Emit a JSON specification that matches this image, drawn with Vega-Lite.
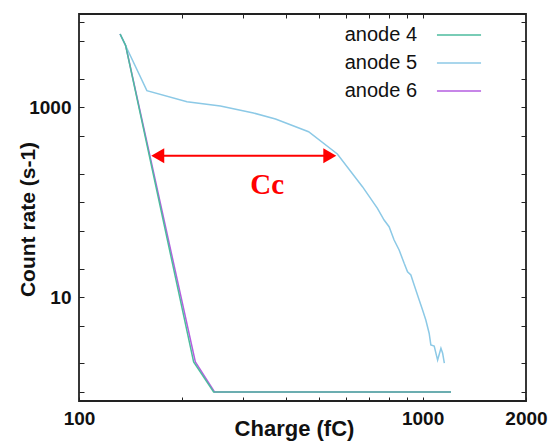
{
  "$schema": "https://vega.github.io/schema/vega-lite/v6.json",
  "width": 447,
  "height": 387,
  "autosize": {"type": "none"},
  "padding": {"left": 79, "top": 14, "right": 24, "bottom": 43},
  "background": "white",
  "config": {
    "font": "Liberation Sans",
    "view": {"stroke": "#222", "strokeWidth": 1.8},
    "axis": {
      "grid": false,
      "labelFont": "Liberation Sans",
      "labelFontSize": 19,
      "labelFontWeight": "bold",
      "labelColor": "#111",
      "labelFlush": false,
      "titleFont": "Liberation Sans",
      "titleFontWeight": "bold",
      "titleColor": "#111",
      "tickColor": "#222",
      "tickWidth": 1,
      "domain": false
    }
  },
  "datasets": {
    "curves": [
      {"series": "anode 6", "charge": 131.7, "rate": 5922},
      {"series": "anode 6", "charge": 136.7, "rate": 4479},
      {"series": "anode 6", "charge": 218.1, "rate": 2.07},
      {"series": "anode 6", "charge": 248.0, "rate": 1.0},
      {"series": "anode 6", "charge": 1210, "rate": 1.0},
      {"series": "anode 5", "charge": 131.7, "rate": 5922},
      {"series": "anode 5", "charge": 157.6, "rate": 1496},
      {"series": "anode 5", "charge": 206.2, "rate": 1146},
      {"series": "anode 5", "charge": 257.9, "rate": 1032},
      {"series": "anode 5", "charge": 321.9, "rate": 871},
      {"series": "anode 5", "charge": 373.2, "rate": 753},
      {"series": "anode 5", "charge": 465.8, "rate": 553},
      {"series": "anode 5", "charge": 564.9, "rate": 322},
      {"series": "anode 5", "charge": 668.3, "rate": 145.7},
      {"series": "anode 5", "charge": 739.0, "rate": 86.2},
      {"series": "anode 5", "charge": 772.7, "rate": 64.9},
      {"series": "anode 5", "charge": 799.0, "rate": 55.2},
      {"series": "anode 5", "charge": 826.3, "rate": 40.0},
      {"series": "anode 5", "charge": 854.6, "rate": 31.4},
      {"series": "anode 5", "charge": 883.8, "rate": 22.7},
      {"series": "anode 5", "charge": 904.1, "rate": 18.5},
      {"series": "anode 5", "charge": 924.5, "rate": 17.1},
      {"series": "anode 5", "charge": 945.2, "rate": 13.4},
      {"series": "anode 5", "charge": 977.5, "rate": 9.32},
      {"series": "anode 5", "charge": 1000, "rate": 7.31},
      {"series": "anode 5", "charge": 1022, "rate": 5.74},
      {"series": "anode 5", "charge": 1045, "rate": 4.16},
      {"series": "anode 5", "charge": 1057, "rate": 3.13},
      {"series": "anode 5", "charge": 1081, "rate": 3.05},
      {"series": "anode 5", "charge": 1106, "rate": 2.17},
      {"series": "anode 5", "charge": 1131, "rate": 2.89},
      {"series": "anode 5", "charge": 1144, "rate": 2.56},
      {"series": "anode 5", "charge": 1157, "rate": 2.01},
      {"series": "anode 4", "charge": 131.7, "rate": 5922},
      {"series": "anode 4", "charge": 136.7, "rate": 4479},
      {"series": "anode 4", "charge": 215.6, "rate": 2.07},
      {"series": "anode 4", "charge": 246.5, "rate": 1.0},
      {"series": "anode 4", "charge": 1210, "rate": 1.0}
    ],
    "arrow": [{"q1": 169.5, "q2": 537, "r": 309}],
    "heads": [
      {"q": 169.5, "r": 309, "dir": "left"},
      {"q": 537, "r": 309, "dir": "right"}
    ],
    "note": [{"q": 353, "r": 152, "text": "Cc"}]
  },
  "resolve": {"axis": {"x": "independent", "y": "independent"}},
  "layer": [
    {
      "data": {"name": "curves"},
      "mark": {"type": "line", "strokeWidth": 1.5},
      "encoding": {
        "x": {
          "field": "charge", "type": "quantitative",
          "scale": {"type": "log", "domain": [100, 2000]},
          "axis": {
            "orient": "bottom",
            "offset": -4,
            "values": [100, 200, 300, 400, 500, 600, 700, 800, 900, 1000, 2000],
            "labelExpr": "datum.value == 100 || datum.value == 1000 || datum.value == 2000 ? format(datum.value, 'd') : ''",
            "tickSize": 4,
            "labelPadding": 8,
            "title": "Charge (fC)",
            "titleFontSize": 22,
            "titleX": 215,
            "titleY": 38,
            "titleBaseline": "alphabetic",
            "titleAlign": "center"
          }
        },
        "y": {
          "field": "rate", "type": "quantitative",
          "scale": {"type": "log", "domain": [0.804, 9616]},
          "axis": {
            "orient": "left",
            "offset": -5,
            "values": [1, 2, 5, 10, 20, 50, 100, 200, 500, 1000, 2000, 5000, 8000],
            "labelExpr": "datum.value == 10 || datum.value == 1000 ? format(datum.value, 'd') : ''",
            "tickSize": 5,
            "labelPadding": 8,
            "title": "Count rate (s-1)",
            "titleFontSize": 21,
            "titleX": -50,
            "titleY": 205,
            "titleAngle": -90,
            "titleBaseline": "alphabetic",
            "titleAlign": "center"
          }
        },
        "color": {
          "field": "series", "type": "nominal",
          "scale": {"domain": ["anode 4", "anode 5", "anode 6"], "range": ["#4dbb9e", "#8cc9e6", "#b45ee0"]},
          "legend": {
            "orient": "none",
            "legendX": 370,
            "legendY": 11,
            "title": null,
            "padding": 0,
            "labelFont": "Liberation Sans",
            "labelFontSize": 20,
            "labelColor": "#111",
            "labelAlign": "right",
            "labelOffset": -52,
            "symbolType": "M-3,0H3",
            "symbolSize": 216,
            "symbolStrokeWidth": 1.5,
            "symbolFillColor": "transparent",
            "rowPadding": 8
          }
        }
      }
    },
    {
      "data": {"name": "curves"},
      "mark": {"type": "line", "opacity": 0},
      "encoding": {
        "x": {
          "field": "charge", "type": "quantitative",
          "scale": {"type": "log", "domain": [100, 2000]},
          "axis": {
            "orient": "top",
            "offset": -4,
            "values": [200, 300, 400, 500, 600, 700, 800, 900, 1000],
            "labels": false, "title": null, "tickSize": 4
          }
        },
        "y": {
          "field": "rate", "type": "quantitative",
          "scale": {"type": "log", "domain": [0.804, 9616]},
          "axis": {
            "orient": "right",
            "offset": -5,
            "values": [1, 2, 5, 10, 20, 50, 100, 200, 500, 1000, 2000, 5000, 8000],
            "labels": false, "title": null, "tickSize": 5
          }
        },
        "detail": {"field": "series"}
      }
    },
    {
      "data": {"name": "arrow"},
      "mark": {"type": "rule", "color": "#ff0000", "strokeWidth": 2},
      "encoding": {
        "x": {"field": "q1", "type": "quantitative", "scale": {"type": "log", "domain": [100, 2000]}, "axis": null},
        "x2": {"field": "q2"},
        "y": {"field": "r", "type": "quantitative", "scale": {"type": "log", "domain": [0.804, 9616]}, "axis": null}
      }
    },
    {
      "data": {"name": "heads"},
      "transform": [{"filter": "datum.dir == 'left'"}],
      "mark": {"type": "point", "shape": "triangle-left", "filled": true, "size": 225, "color": "#ff0000", "opacity": 1},
      "encoding": {
        "x": {"field": "q", "type": "quantitative", "scale": {"type": "log", "domain": [100, 2000]}, "axis": null},
        "y": {"field": "r", "type": "quantitative", "scale": {"type": "log", "domain": [0.804, 9616]}, "axis": null}
      }
    },
    {
      "data": {"name": "heads"},
      "transform": [{"filter": "datum.dir == 'right'"}],
      "mark": {"type": "point", "shape": "triangle-right", "filled": true, "size": 225, "color": "#ff0000", "opacity": 1},
      "encoding": {
        "x": {"field": "q", "type": "quantitative", "scale": {"type": "log", "domain": [100, 2000]}, "axis": null},
        "y": {"field": "r", "type": "quantitative", "scale": {"type": "log", "domain": [0.804, 9616]}, "axis": null}
      }
    },
    {
      "data": {"name": "note"},
      "mark": {"type": "text", "font": "Liberation Serif", "fontWeight": "bold", "fontSize": 29, "color": "#ff0000", "baseline": "middle", "align": "center"},
      "encoding": {
        "x": {"field": "q", "type": "quantitative", "scale": {"type": "log", "domain": [100, 2000]}, "axis": null},
        "y": {"field": "r", "type": "quantitative", "scale": {"type": "log", "domain": [0.804, 9616]}, "axis": null},
        "text": {"field": "text"}
      }
    }
  ]
}
